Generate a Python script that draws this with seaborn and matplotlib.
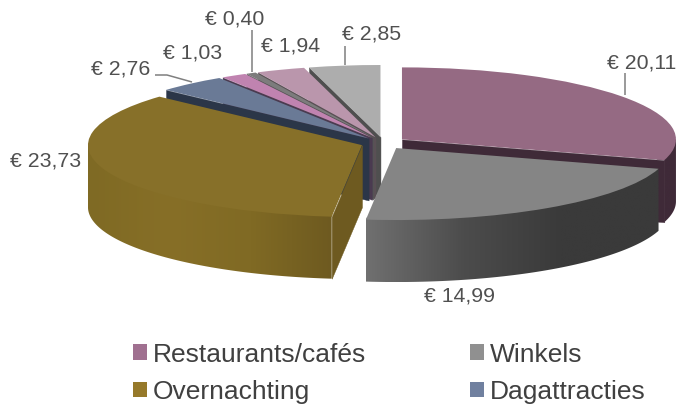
import numpy as np
import matplotlib
matplotlib.use("Agg")
import matplotlib.pyplot as plt
from matplotlib.collections import PolyCollection
from matplotlib.colors import to_rgb
from matplotlib.patches import Patch, Polygon
import seaborn as sns

# ---- data ----
values = [20.11, 14.99, 23.73, 2.76, 1.03, 0.40, 1.94, 2.85]
value_labels = ["€ 20,11", "€ 14,99", "€ 23,73", "€ 2,76", "€ 1,03", "€ 0,40", "€ 1,94", "€ 2,85"]
legend_names = ["Restaurants/cafés", "Winkels", "Overnachting", "Dagattracties"]

# ---- style ----
top_colors = ["#956A83", "#858585", "#877029", "#6A7A96", "#C083B0", "#7C7C7C", "#BA96AC", "#ADADAD"]
face_colors = ["#3F2A38", "#3A3A3A", "#6E5A20", "#2B3648", "#4A3A50", "#555555", "#5A5055", "#4F4F4F"]
arc_stops = {0: ["#3F2A38", "#3F2A38"],
             1: ["#707070", "#4C4C4C", "#3A3A3A", "#3A3A3A"],
             2: ["#7F6A24", "#876F27", "#806A24", "#6E5A20"]}
legend_colors = ["#A07090", "#909090", "#96792A", "#70809F"]
draw_order = [7, 6, 5, 4, 3, 0, 2, 1]
label_px = [(607, 63), (424, 296), (10, 161), (91, 69), (163, 53), (205, 19), (261, 46), (342, 34)]
leaders_px = [[(625, 73), (625, 95)], [(345, 46), (345, 65)],
              [(252, 30), (252, 72)], [(155, 75), (167, 75), (192, 82)]]
W, H = 678, 405
CX, CY, RX, RY, DEPTH = 383.5, 143, 274, 72, 62
EXPLODE = 23 / 274

sns.set_theme(style="white")
plt.rcParams["font.family"] = ["Liberation Sans", "DejaVu Sans"]

fig = plt.figure(figsize=(W / 100, H / 100), dpi=100)
ax = fig.add_axes([0, 0, 1, 1])
wedges, _ = ax.pie(values, startangle=90, counterclock=False, colors=top_colors,
                   explode=[EXPLODE] * len(values), wedgeprops=dict(linewidth=0))


def px(x, y):
    return (x - CX) / RX, (CY - y) / RY


def on_circle(c, deg):
    r = np.radians(deg)
    return c + np.array([np.sin(r), np.cos(r)])


dz = DEPTH / RY
drop = np.array([0, dz])
for rank, i in enumerate(draw_order):
    w = wedges[i]
    z = 2 + rank
    w.set_zorder(z + 0.5)
    w.set_clip_on(False)
    c = np.array(w.center)
    a1 = (90 - w.theta2) % 360
    a2 = a1 + (w.theta2 - w.theta1)

    # radial cut faces that look towards the viewer
    for ang, vis in ((a1, np.sin(np.radians(a1)) < -1e-6), (a2, np.sin(np.radians(a2)) > 1e-6)):
        if vis:
            p = on_circle(c, ang)
            quad = [c, p, p - drop, c - drop]
            ax.add_collection(PolyCollection([quad], facecolors=face_colors[i], edgecolors=face_colors[i],
                                             linewidths=0.3, zorder=z + 0.1))
    # outer wall: a horizontal gradient clipped to the wall's outline;
    # its upper edge runs just inside the top face so no seam shows
    lo, hi = max(a1, 90), min(a2, 270)
    if hi > lo:
        angs = np.linspace(lo, hi, 120)
        rim = np.array([on_circle(c, a) for a in angs])
        inner = c + (rim - c) * 0.97
        outline = np.vstack([rim[:1], inner, rim[-1:], rim[::-1] - drop])
        x0, x1 = outline[:, 0].min(), outline[:, 0].max()
        y0, y1 = outline[:, 1].min(), outline[:, 1].max()
        stops = np.array([to_rgb(s) for s in arc_stops[i]])
        t = np.linspace(0, 1, 256)
        st = np.linspace(0, 1, len(stops))
        grad = np.stack([np.interp(t, st, stops[:, k]) for k in range(3)], axis=-1)[None, :, :]
        im = ax.imshow(grad, extent=(x0, x1, y0, y1), aspect="auto", zorder=z + 0.2, interpolation="bilinear")
        clip = Polygon(outline, closed=True, transform=ax.transData, facecolor="none", edgecolor="none")
        ax.add_patch(clip)
        im.set_clip_path(clip)

ax.set_aspect("auto")
ax.set_xlim(-CX / RX, (W - CX) / RX)
ax.set_ylim((CY - H) / RY, CY / RY)
ax.axis("off")

text_color = "#505050"
for s, (x, y) in zip(value_labels, label_px):
    dx, dy = px(x, y)
    ax.text(dx, dy, s, fontsize=15.3, color=text_color, va="center", ha="left", zorder=30)
for line in leaders_px:
    xs, ys = zip(*[px(*pt) for pt in line])
    ax.plot(xs, ys, color="#7F7F7F", lw=1.1, zorder=29, solid_capstyle="butt")

# the legend fills column by column; the reference reads row by row
reading = [0, 2, 1, 3]
handles = [Patch(facecolor=legend_colors[k], edgecolor="none") for k in reading]
fs_px = 19 * 100 / 72
leg = ax.legend(handles, [legend_names[k] for k in reading], ncol=2, frameon=False, fontsize=19,
                loc="upper left", bbox_to_anchor=(122 / W, 1 - 332 / H), bbox_transform=fig.transFigure,
                borderaxespad=0, handlelength=14 / fs_px, handleheight=14 / fs_px,
                handletextpad=6 / fs_px, columnspacing=104 / fs_px, labelspacing=0.5, labelcolor="#404040")
leg.set_zorder(40)

fig.savefig("out.png", dpi=100)
